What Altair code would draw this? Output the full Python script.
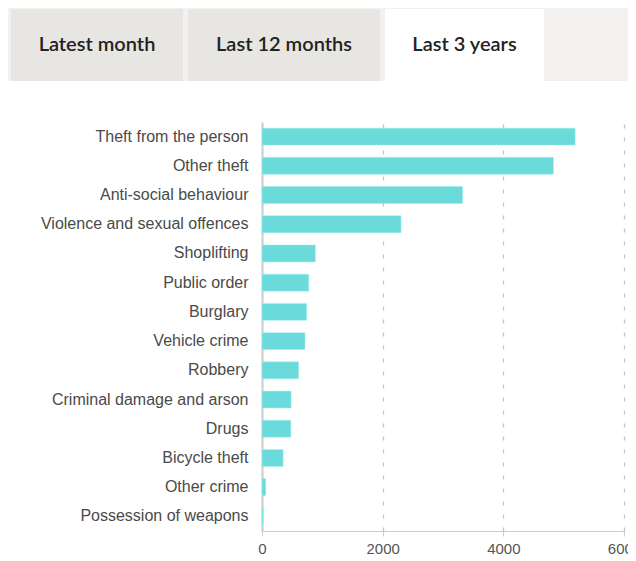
import altair as alt
import pandas as pd

categories = [
    "Theft from the person", "Other theft", "Anti-social behaviour",
    "Violence and sexual offences", "Shoplifting", "Public order", "Burglary",
    "Vehicle crime", "Robbery", "Criminal damage and arson", "Drugs",
    "Bicycle theft", "Other crime", "Possession of weapons",
]
counts = [5190, 4830, 3325, 2305, 885, 775, 740, 712, 608, 482, 478, 350, 62, 20]
x_ticks = [0, 2000, 4000, 6000]
tabs = ["Latest month", "Last 12 months", "Last 3 years"]

df = pd.DataFrame({"category": categories, "count": counts})

BAR = "#6bdada"
FONT = "Liberation Sans"

bars = alt.Chart(df).mark_bar(color=BAR, stroke="#a8ecec", strokeWidth=0.5).encode(
    y=alt.Y("category:N", sort=categories,
            scale=alt.Scale(paddingInner=0.42, paddingOuter=0.21),
            axis=alt.Axis(title=None, ticks=False, labelPadding=14, labelFontSize=16,
                          labelColor="#4a4a4a", labelFont=FONT, domainColor="#cccccc",
                          domainWidth=2, grid=False, labelLimit=300)),
    x=alt.X("count:Q", scale=alt.Scale(domain=[0, 6000], nice=False),
            axis=alt.Axis(title=None, values=x_ticks, format="d", tickSize=5,
                          tickColor="#cccccc", domainColor="#cccccc", labelFontSize=15,
                          labelColor="#555", labelFont=FONT, labelPadding=5,
                          grid=True, gridColor="#c4c4c4", gridDash=[4, 9], gridWidth=1.3,
                          labelFlush=False)),
)

def one(label):
    return pd.DataFrame({"label": [label]})

strip = alt.Chart(one("strip")).mark_rect(color="#f2f1ef").encode(
    x=alt.value(-254), x2=alt.value(366), y=alt.value(-114), y2=alt.value(-41))

tab_specs = [
    (tabs[0], -251, -79, "#e8e6e3"),
    (tabs[1], -74, 118, "#e8e6e3"),
    (tabs[2], 123, 282, "#ffffff"),
]
layers = [strip]
for label, x0, x1, col in tab_specs:
    layers.append(alt.Chart(one(label)).mark_rect(color=col).encode(
        x=alt.value(x0), x2=alt.value(x1), y=alt.value(-113), y2=alt.value(-41)))
    layers.append(alt.Chart(one(label)).mark_text(
        font="Lato", fontSize=20, fontWeight=600, color="#222222",
        align="center", baseline="middle").encode(
        text="label:N", x=alt.value((x0 + x1) / 2), y=alt.value(-77)))

chart = alt.layer(*layers, bars).properties(
    width=362, height=409,
    padding={"left": 254, "top": 114, "right": 4, "bottom": 30},
    autosize=alt.AutoSizeParams(type="none"),
).configure_view(stroke=None)

chart.save("out.html", embed_options={"renderer": "svg", "actions": False})
